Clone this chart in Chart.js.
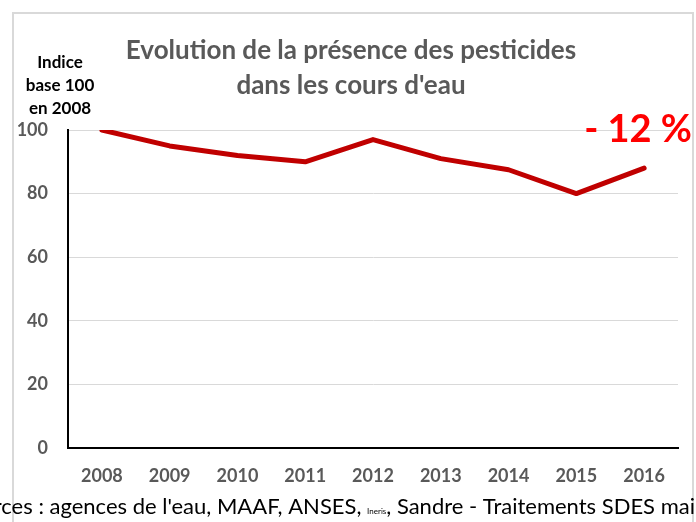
<!DOCTYPE html>
<html>
<head>
<meta charset="utf-8">
<script src="https://cdn.jsdelivr.net/npm/chart.js@4/dist/chart.umd.min.js"></script>
<style>
  body { margin: 0; background: #fff; }
  #wrap { position: relative; width: 696px; height: 522px; }
</style>
</head>
<body>
<div id="wrap"><canvas id="pestChart" width="696" height="522"></canvas></div>
<script>
// Indice base 100 en 2008
const years = ["2008", "2009", "2010", "2011", "2012", "2013", "2014", "2015", "2016"];
const indexValues = [100, 95, 92, 90, 97, 91, 87.5, 80, 88];
const titleLines = ["Evolution de la présence des pesticides", "dans les cours d'eau"];
const yLabelLines = ["Indice", "base 100", "en 2008"];
const changeLabel = "- 12 %";

const fontFamily = "Lato, 'Open Sans', sans-serif";

// title, extra texts + outer frame
const decorPlugin = {
    id: "decor",
    beforeDraw(chart) {
        const ctx = chart.ctx;
        ctx.save();
        ctx.strokeStyle = "#D9D9D9";
        ctx.lineWidth = 2;
        ctx.strokeRect(13, 13, 680, 530);
        ctx.restore();
    },
    afterDraw(chart) {
        const ctx = chart.ctx;
        ctx.save();
        // title
        ctx.fillStyle = "#595959";
        ctx.font = "bold 26px " + fontFamily;
        ctx.textAlign = "center";
        ctx.textBaseline = "middle";
        titleLines.forEach(function (t, i) {
            ctx.fillText(t, 351, 51 + i * 35);
        });
        // y axis label
        ctx.fillStyle = "#000";
        ctx.font = "bold 17px " + fontFamily;
        yLabelLines.forEach(function (t, i) {
            ctx.fillText(t, 60, 63 + i * 23);
        });
        // -12 %
        ctx.fillStyle = "#FF0000";
        ctx.font = "bold 38px " + fontFamily;
        ctx.textAlign = "right";
        ctx.textBaseline = "alphabetic";
        ctx.fillText(changeLabel, 692, 142);
        // source line (cut off at both sides like the original)
        const parts = [
            { t: "Sources : agences de l'eau, MAAF, ANSES, ", f: "22px " + fontFamily },
            { t: "Ineris", f: "8px " + fontFamily },
            { t: ", Sandre - Traitements SDES mai", f: "22px " + fontFamily }
        ];
        ctx.fillStyle = "#000";
        ctx.textAlign = "left";
        let x = 695;
        parts.slice().reverse().forEach(function (p) {
            ctx.font = p.f;
            x -= ctx.measureText(p.t).width;
        });
        parts.forEach(function (p) {
            ctx.font = p.f;
            ctx.fillText(p.t, x, 514);
            x += ctx.measureText(p.t).width;
        });
        ctx.restore();
    }
};

const ctxPest = document.getElementById("pestChart").getContext("2d");
new Chart(ctxPest, {
    type: "line",
    data: {
        labels: years,
        datasets: [{
            label: "Indice",
            data: indexValues,
            borderColor: "#C00000",
            borderWidth: 5,
            borderCapStyle: "round",
            borderJoinStyle: "round",
            pointRadius: 0,
            tension: 0,
            fill: false
        }]
    },
    options: {
        responsive: false,
        animation: false,
        layout: { padding: { left: 0, right: 18, top: 130, bottom: 0 } },
        plugins: {
            legend: { display: false },
            tooltip: { enabled: false },
            title: { display: false }
        },
        scales: {
            x: {
                offset: true,
                grid: { display: false, drawTicks: false },
                border: { color: "#000", width: 2 },
                ticks: {
                    color: "#595959",
                    font: { family: fontFamily, size: 18, weight: "bold" },
                    padding: 17,
                    maxRotation: 0
                },
                afterFit(scale) { scale.height = 74; }
            },
            y: {
                min: 0,
                max: 100,
                ticks: {
                    stepSize: 20,
                    color: "#595959",
                    font: { family: fontFamily, size: 18, weight: "bold" },
                    padding: 20
                },
                grid: { color: "#D9D9D9", lineWidth: 1, drawTicks: false },
                border: { color: "#000", width: 2 },
                afterFit(scale) { scale.width = 68; }
            }
        }
    },
    plugins: [decorPlugin]
});
</script>
</body>
</html>
